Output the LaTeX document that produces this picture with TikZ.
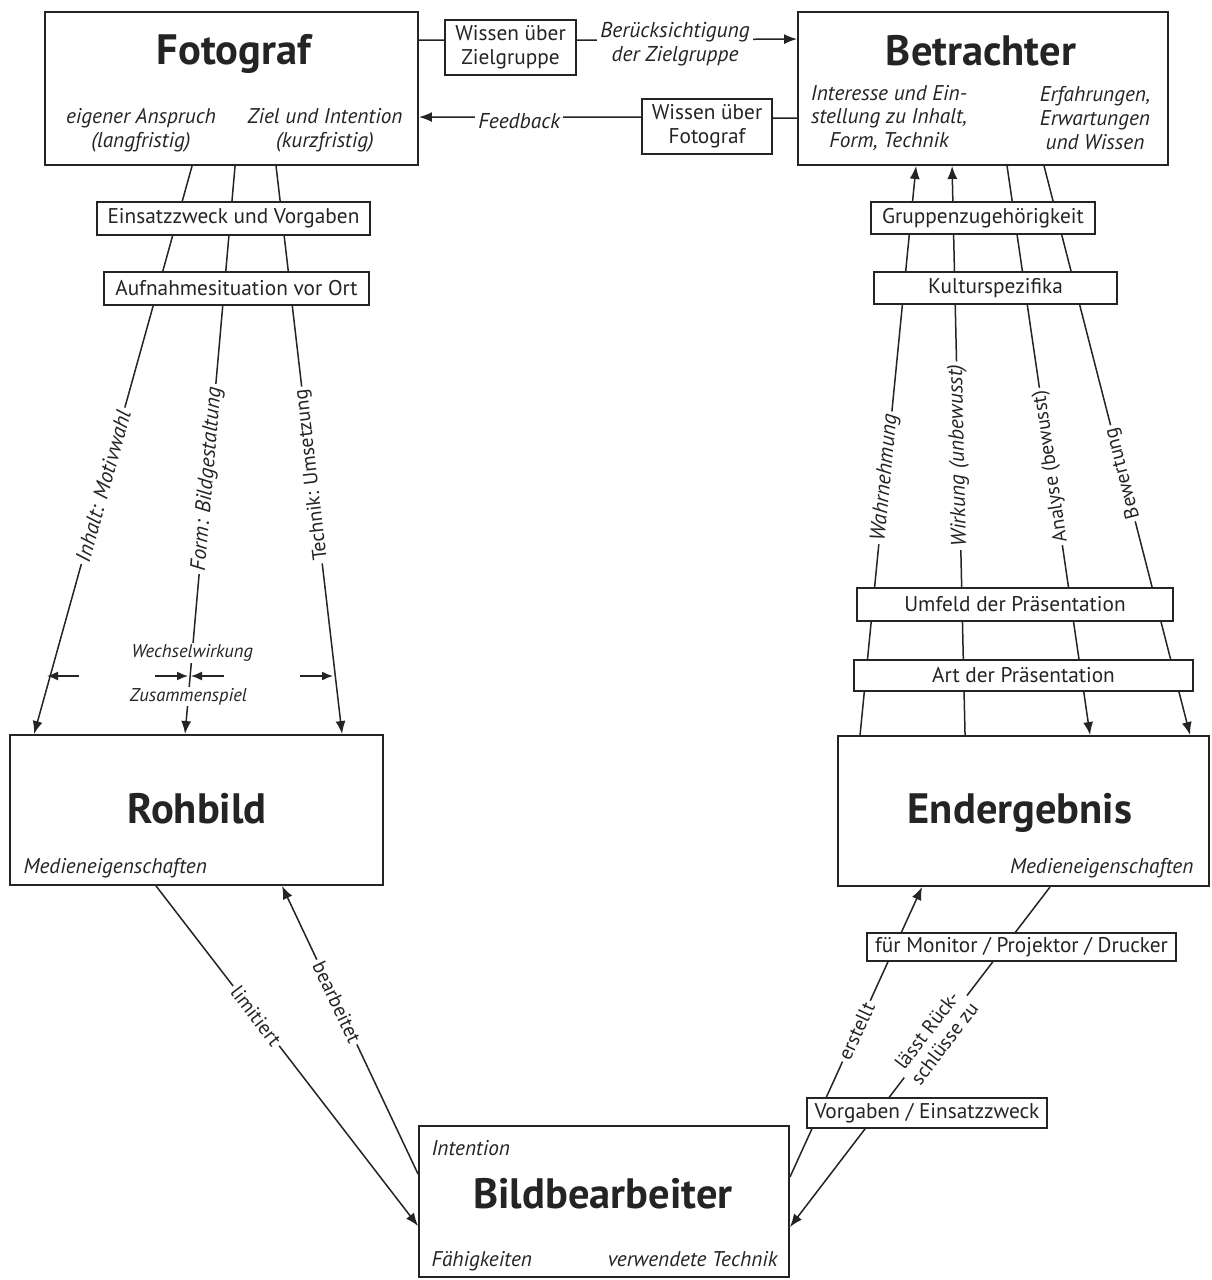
\documentclass[tikz,border=0pt]{standalone}
\usepackage{fontspec}
\setmainfont{PT Sans}
\usetikzlibrary{arrows.meta,calc}
\definecolor{ink}{HTML}{262324}
\begin{document}
\begin{tikzpicture}[x=1pt,y=-1pt,
  every node/.style={text=ink},
  mainbox/.style={draw=ink,fill=white,line width=1.9pt,inner sep=0pt},
  smallbox/.style={draw=ink,fill=white,line width=1.8pt,inner sep=0pt,align=center,font=\fontsize{21.3}{24}\selectfont},
  titletext/.style={font=\bfseries\fontsize{42.5}{48}\selectfont},
  subtext/.style={font=\itshape\fontsize{21.3}{23.8}\selectfont,align=center},
  conn/.style={draw=ink,line width=1.5pt},
  tip/.style={-{Latex[length=13pt,width=10pt]}},
  smalltip/.style={-{Latex[length=11pt,width=9pt]}},
  lbl/.style={fill=white,inner sep=3pt,font=\itshape\fontsize{21.5}{24}\selectfont,align=center},
  lblr/.style={fill=white,inner sep=3pt,font=\fontsize{20}{22}\selectfont,align=center},
  lbls/.style={fill=white,inner sep=1.5pt,font=\itshape\fontsize{18.5}{20}\selectfont},
]
\useasboundingbox[fill=white] (0,0) rectangle (1211,1280);

% main boxes
\node[mainbox,minimum width=373pt,minimum height=153pt] (foto) at (231.5,88.5) {};
\node[mainbox,minimum width=370pt,minimum height=153pt] (betr) at (983,88.5) {};
\node[mainbox,minimum width=373pt,minimum height=150pt] (roh) at (196.5,810) {};
\node[mainbox,minimum width=371pt,minimum height=150pt] (end) at (1023.5,811) {};
\node[mainbox,minimum width=370pt,minimum height=151pt] (bild) at (604,1201.5) {};

% texts in main boxes
\node[titletext,anchor=base] (fototitle) at (234,64) {Fotograf};
\node[subtext] (fotoa) at (141,130) {eigener Anspruch\\(langfristig)};
\node[subtext] (fotob) at (325,130) {Ziel und Intention\\(kurzfristig)};
\node[titletext,anchor=base] (betrtitle) at (981,65) {Betrachter};
\node[subtext] (betra) at (889,118) {Interesse und Ein-\\stellung zu Inhalt,\\Form, Technik};
\node[subtext] (betrb) at (1095,118) {Erfahrungen,\\Erwartungen\\und Wissen};
\node[titletext,anchor=base] (rohtitle) at (197,823) {Rohbild};
\node[subtext,anchor=base west] (rohm) at (20,873) {Medieneigenschaften};
\node[titletext,anchor=base] (endtitle) at (1020,823) {Endergebnis};
\node[subtext,anchor=base east] (endm) at (1197,873) {Medieneigenschaften};
\node[titletext,anchor=base] (bildtitle) at (603,1208) {Bildbearbeiter};
\node[subtext,anchor=base west] (bildi) at (428,1155) {Intention};
\node[subtext,anchor=base west] (bildf) at (428,1266) {Fähigkeiten};
\node[subtext,anchor=base east] (bildt) at (781,1266) {verwendete Technik};

% small boxes at the top
\node[smallbox,minimum width=131pt,minimum height=55pt] (wz) at (510.5,47.5) {Wissen über\\Zielgruppe};
\node[smallbox,minimum width=130pt,minimum height=55pt] (wf) at (707,126.5) {Wissen über\\Fotograf};

% top connectors
\draw[conn] ($(foto.north east)+(0,29)$) -- ($(wz.north west)+(0,21)$);
\draw[conn,tip] ($(wz.north east)+(0,21)$) -- ($(betr.north west)+(0,28)$)
  node[lbl,pos=0.446,yshift=-5pt] (lberueck) {Berücksichtigung\\der Zielgruppe};
\draw[conn] ($(betr.north west)+(0,107)$) -- ($(wf.north east)+(0,20)$);
\draw[conn,tip] ($(wf.north west)+(0,19)$) -- ($(foto.north east)+(0,106)$)
  node[lbl,pos=0.549,yshift=-4pt] (lfeed) {Feedback};

% Fotograf -> Rohbild
\draw[conn,tip] ($(foto.south west)+(148,0)$) -- ($(roh.north west)+(25,0)$)
  node[lbl,pos=0.563,rotate=74.5] (linhalt) {Inhalt: Motivwahl};
\draw[conn,tip] ($(foto.south west)+(191,0)$) -- ($(roh.north west)+(176,0)$)
  node[lbl,pos=0.551,rotate=85] (lform) {Form: Bildgestaltung}
  node[lbls,pos=0.857] (lwechsel) {Wechselwirkung}
  node[lbls,pos=0.934] (lzusammen) {Zusammenspiel};
\draw[conn,tip] ($(foto.south west)+(232,0)$) -- ($(roh.north west)+(333,0)$)
  node[lblr,pos=0.544,rotate=96.6] (ltechnik) {Technik: Umsetzung};

% Wechselwirkung arrows
\coordinate (w1s) at (79,676);  \coordinate (w1e) at (47,676);
\coordinate (w2s) at (155,676); \coordinate (w2e) at (188,676);
\coordinate (w3s) at (224,676); \coordinate (w3e) at (191,676);
\coordinate (w4s) at (300,676); \coordinate (w4e) at (333,676);
\draw[conn,smalltip] (w1s) -- (w1e);
\draw[conn,smalltip] (w2s) -- (w2e);
\draw[conn,smalltip] (w3s) -- (w3e);
\draw[conn,smalltip] (w4s) -- (w4e);

% boxes on the Fotograf lines
\node[smallbox,minimum width=273pt,minimum height=33pt] (einsatz) at (233.5,218.5) {Einsatzzweck und Vorgaben};
\node[smallbox,minimum width=265pt,minimum height=33pt] (aufnahme) at (236.5,288.5) {Aufnahmesituation vor Ort};

% Endergebnis -> Betrachter
\draw[conn,tip] ($(end.north west)+(23,0)$) -- ($(betr.south west)+(119,0)$)
  node[lbl,pos=0.452,rotate=84.4] (lwahr) {Wahrnehmung};
\draw[conn,tip] ($(end.north west)+(128,0)$) -- ($(betr.south west)+(155,0)$)
  node[lbl,pos=0.491,rotate=91.3] (lwirk) {Wirkung (unbewusst)};
\draw[conn,tip] ($(betr.south west)+(210,0)$) -- ($(end.north west)+(253,0)$)
  node[lblr,pos=0.528,rotate=98.3] (lanalyse) {Analyse (bewusst)};
\draw[conn,tip] ($(betr.south west)+(247,0)$) -- ($(end.north west)+(353,0)$)
  node[lblr,pos=0.54,rotate=104.4] (lbewert) {Bewertung};

% boxes on the Betrachter lines
\node[smallbox,minimum width=224pt,minimum height=32pt] (gruppe) at (983,218) {Gruppenzugehörigkeit};
\node[smallbox,minimum width=243pt,minimum height=32pt] (kultur) at (995.5,288) {Kulturspezifika};
\node[smallbox,minimum width=316pt,minimum height=33pt] (umfeld) at (1015,604.5) {Umfeld der Präsentation};
\node[smallbox,minimum width=339pt,minimum height=31pt] (art) at (1023.5,675.5) {Art der Präsentation};

% Rohbild <-> Bildbearbeiter
\draw[conn,tip] ($(roh.south west)+(147,0)$) -- ($(bild.north west)+(0,101)$)
  node[lblr,pos=0.382,rotate=-52.6] (llimit) {limitiert};
\draw[conn,tip] ($(bild.north west)+(0,49)$) -- ($(roh.south west)+(273,0)$)
  node[lblr,pos=0.597,rotate=-64.7] (lbearb) {bearbeitet};

% Bildbearbeiter <-> Endergebnis
\draw[conn,tip] ($(bild.north east)+(0,52)$) -- ($(end.south west)+(85,0)$)
  node[lblr,pos=0.503,rotate=65] (lerstellt) {erstellt};
\draw[conn,tip] ($(end.south west)+(213,0)$) -- ($(bild.north east)+(0,102)$)
  node[lblr,pos=0.44,rotate=52.6] (llaesst) {lässt Rück-\\schlüsse zu};

\node[smallbox,minimum width=309pt,minimum height=28pt] (monitor) at (1021.5,947) {für Monitor / Projektor / Drucker};
\node[smallbox,minimum width=240pt,minimum height=30pt] (vorgaben) at (927,1113) {Vorgaben / Einsatzzweck};
\end{tikzpicture}
\end{document}
